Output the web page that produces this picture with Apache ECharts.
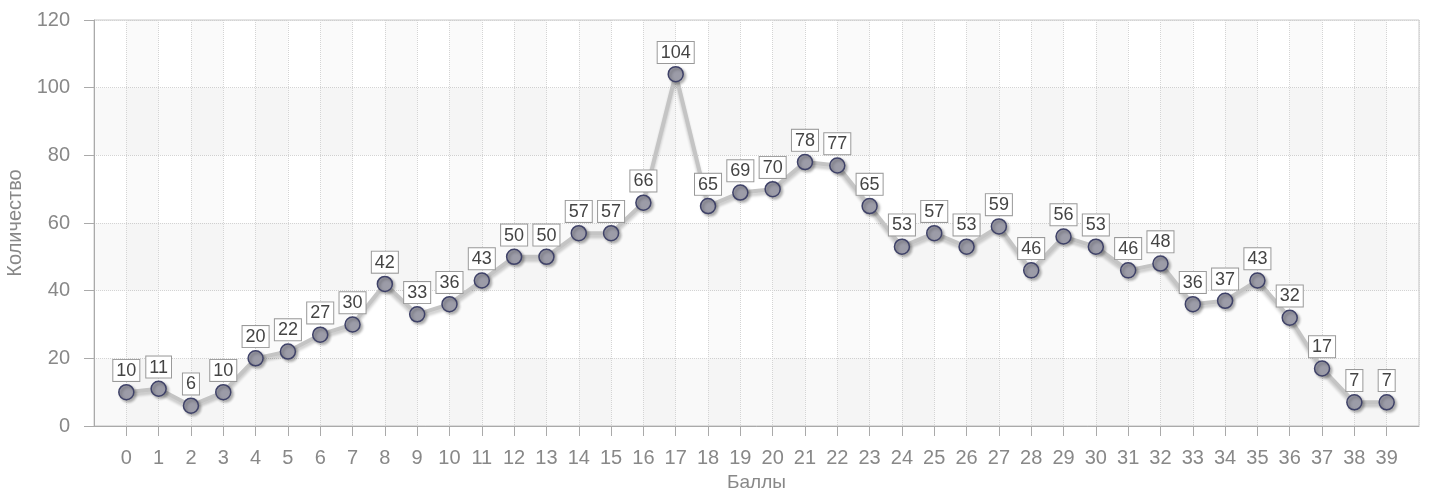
<!DOCTYPE html>
<html>
<head>
<meta charset="utf-8">
<script src="https://cdn.jsdelivr.net/npm/echarts@6/dist/echarts.min.js"></script>
<style>
  html, body { margin: 0; padding: 0; background: #fff; }
  #chart { width: 1429px; height: 497px; }
</style>
</head>
<body>
<div id="chart"></div>
<script>
// баллы и количество
var scores = [0,1,2,3,4,5,6,7,8,9,10,11,12,13,14,15,16,17,18,19,20,21,22,23,24,25,26,27,28,29,30,31,32,33,34,35,36,37,38,39];
var counts = [10,11,6,10,20,22,27,30,42,33,36,43,50,50,57,57,66,104,65,69,70,78,77,65,53,57,53,59,46,56,53,46,48,36,37,43,32,17,7,7];
var yTicks = [0,20,40,60,80,100,120];

var font = 'Liberation Sans, Arial, sans-serif';
var points = [];
for (var i = 0; i < scores.length; i++) {
  points.push([scores[i], counts[i]]);
}

var chart = echarts.init(document.getElementById('chart'));
var option = {
  animation: false,
  grid: {
    left: 94, right: 10, top: 20, bottom: 71,
    outerBoundsMode: 'none',
    show: true, borderColor: '#c8c8c8', borderWidth: 1
  },
  xAxis: {
    type: 'value',
    min: -1, max: 40, interval: 1,
    name: 'Баллы',
    nameLocation: 'middle',
    nameGap: 46,
    nameTextStyle: { color: '#888', fontSize: 19, fontFamily: font },
    axisLine: { onZero: false, lineStyle: { color: '#aaa' } },
    axisTick: { show: true, length: 10, lineStyle: { color: '#aaa' } },
    axisLabel: {
      color: '#888', fontSize: 20, fontFamily: font, margin: 22,
      showMinLabel: false, showMaxLabel: false,
      formatter: function (v) { return scores.indexOf(v) >= 0 ? String(v) : ''; }
    },
    splitLine: { show: true, lineStyle: { color: '#d4d4d4', type: 'dotted' } },
    splitArea: { show: true, areaStyle: { color: ['rgba(0,0,0,0)', 'rgba(0,0,0,0.018)'] } }
  },
  yAxis: {
    type: 'value',
    min: yTicks[0], max: yTicks[yTicks.length - 1], interval: 20,
    name: 'Количество',
    nameLocation: 'middle',
    nameGap: 63,
    nameTextStyle: { color: '#888', fontSize: 20, fontFamily: font },
    axisLine: { show: true, onZero: false, lineStyle: { color: '#aaa' } },
    axisTick: { show: true, length: 10, lineStyle: { color: '#aaa' } },
    axisLabel: { color: '#888', fontSize: 20, fontFamily: font, margin: 24 },
    splitLine: { show: true, lineStyle: { color: '#d4d4d4', type: 'dotted' } },
    splitArea: { show: true, areaStyle: { color: ['rgba(0,0,0,0.022)', 'rgba(0,0,0,0)'] } }
  },
  series: [{
    type: 'line',
    data: points,
    symbol: 'circle',
    symbolSize: 15,
    lineStyle: {
      color: '#c4c4c4', width: 4,
      shadowColor: 'rgba(0,0,0,0.2)', shadowBlur: 3, shadowOffsetY: 3
    },
    itemStyle: {
      color: '#9c9ca8', borderColor: '#3f4268', borderWidth: 1.5,
      shadowColor: 'rgba(0,0,0,0.3)', shadowBlur: 3, shadowOffsetX: 2, shadowOffsetY: 2
    },
    label: {
      show: true,
      position: 'top',
      distance: 3,
      color: '#444',
      fontSize: 18,
      fontFamily: font,
      backgroundColor: '#fff',
      borderColor: '#999',
      borderWidth: 1,
      padding: [2, 3, 1, 3]
    }
  }]
};
chart.setOption(option);
window.onresize = chart.resize;
</script>
</body>
</html>
